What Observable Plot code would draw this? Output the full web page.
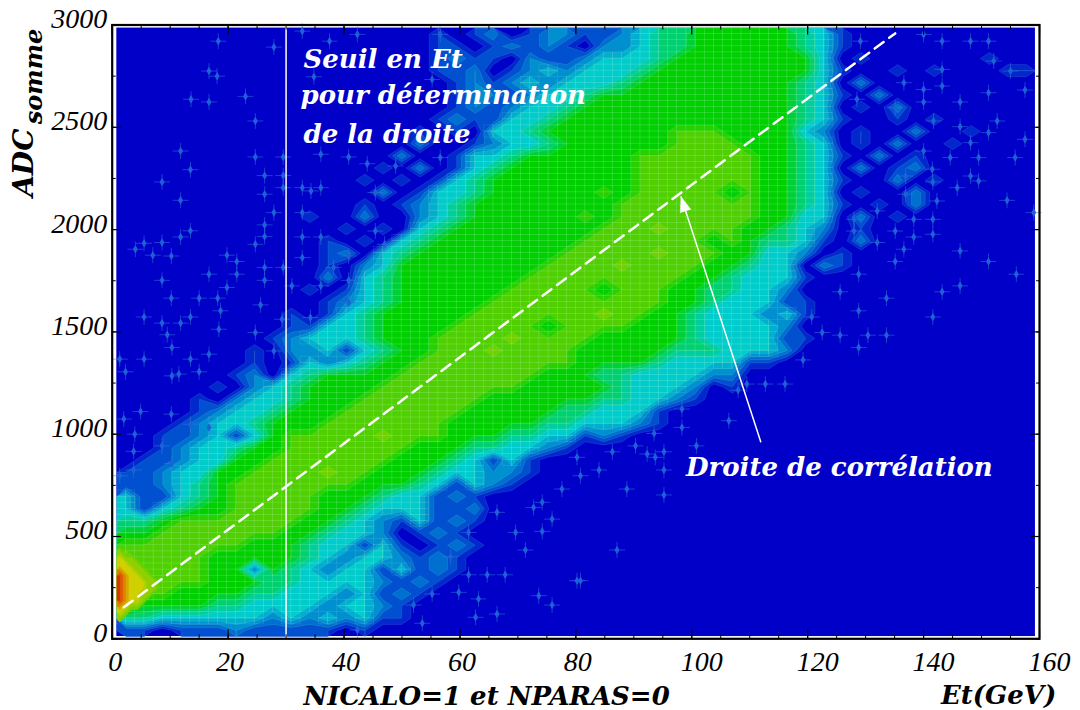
<!DOCTYPE html>
<html><head><meta charset="utf-8">
<script src="https://cdn.jsdelivr.net/npm/d3@7"></script>
<script src="https://cdn.jsdelivr.net/npm/@observablehq/plot@0.6"></script>
<style>html,body{margin:0;padding:0;background:#fff;overflow:hidden}svg{display:block}</style>
</head><body><div id="chart"></div>
<script>
// density levels: top row = high ADC, left column = low Et
const levelRows = [
"0000000000 0000000101 2012211234 4555555431 0",
"0000000000 0000000110 1212102234 4555555431 0",
"0000000000 0000000121 1021123334 5555555530 1000000100",
"0000000000 0000000112 0123233345 5555555531 0010100011",
"0000000000 0000000012 1232333455 5555555430 2000000000",
"0000000000 0000000012 2123345555 5555555431 0200000000",
"0000000000 0000000012 1233455555 5555555430 1020000000",
"0000000000 0000000121 1334555555 5555555431 0010100000",
"0000000000 0000001010 3345555555 6665555320 1002001000",
"0000000000 0000002001 2334555555 6666555430 1020010000",
"0000000000 0000020013 3455555566 6666655431 0201000000",
"0000000000 0000102013 4555555566 6666655430 2012000000",
"0000000000 0001010134 5555555566 6666655431 0020100000",
"0000000000 0000201334 5555556566 6665655430 1002000000",
"0000000000 0001012345 5555555666 6666655431 0102000000",
"0000000000 1002002345 5555565666 6666655330 2010000000",
"0000000000 0010103455 5555556667 6666554320 1000000000",
"0000000000 0101034555 5555566666 6656544310 2000000000",
"0000000000 0120345555 5555666667 6665533201 0000000000",
"0000000000 0102355555 5556666766 6655433021 0000000000",
"0000000000 0203455555 5566666666 6554333100",
"0000000000 1013455555 5666665666 5544332000",
"0000000000 0123455555 6666666666 5543331100",
"0000000001 0134555556 6666667665 5433323100",
"0000000001 1334555566 6665666655 5433332000",
"0000000012 3334555666 6766665555 5433331100",
"0000000102 2313455666 7666655555 4443332000",
"0000000101 3234556666 6666655554 3333110000",
"0000001203 4555566666 6665554433 3322000000",
"0000010234 5555666666 6655555433 3201000000",
"0000102334 5556666666 5555554433 2100000000",
"0000123345 5566666665 5555443331 0000000000",
"0001233455 5666666655 5554433321",
"0011231356 6666766655 5443312100",
"0012334556 6666665554 4332100000",
"0112335566 6666655543 1310000000",
"1123355666 6766555433 2210000000",
"1123456666 6665554313 2100000000",
"3113456666 6555433121",
"3134556666 6554333112",
"4456666666 5543213121",
"5566666665 5433201210",
"6666666555 4331310121",
"7666655555 4323321210",
"7666655254 3233131210",
"7666655544 3333212100",
"7665555443 3323121000",
"6555544333 3233210000",
"4433333323 2323110000",
"1101112111 1101000000"
];
// finer reading of the hot spot near the origin
const coreRows = [
"76666666","87766666","88776666","98877666","a9887766","a9888776",
"a9888776","a9887766","a9887666","98776666","87666655","76555555"
];
const speckEt = [18.3,27.9,16.7,18.1,13.6,16.7,23,24.7,11.8,24.7,29.5,13.5,8.6,26.3,29.5,11.8,26.3,29.5,27.9,13.5,11.8,8.6,5.5,4,7,10.2,24.7,26.3,26.3,19.8,21.5,26.3,29.5,16.7,21.5,8.6,26.3,31,10.2,15,18.2,19.8,18.7,25.6,5.5,8.6,11.8,13.5,29.3,
32.8,37.5,42.3,34.8,32.8,34.3,36,32.8,32.8,36,32.8,40.8,38.2,36,40.8,40.8,44,40.8,36,48.9,34.2,45.4,45.4,47,56.6,55.2,56.6,
129.1,140,143.2,148.1,151.2,152.1,143.2,136.6,140,143.2,157.5,155,151.2,140,146.3,128.5,135.1,152.7,146.3,141.7,151.2,157.5,148.1,140,144.6,149.5,155.8,141.5,148.1,149.5,141.6,145.8,136.9,136.9,142.3,154.4,159,138.3,141.6,135.1,138.3,141.6,136.6,132,146.3,151.2,135.1,156,128.8,146.3,143.2,133.6,128.8,141.6,120.7,125.6,132,128,128,
18.4,24.7,9.5,10.3,1.3,5.5,13.5,16.7,2.3,15,10.3,11.5,27.9,13.5,2,4.9,10.2,3.9,16.7,8.6,3.7,10.3,3.7,1.3,77.6,74.2,72.7,75.9,69.6,74.2,71.3,66.4,61.5,58.4,61.5,64.7,67.8,80.2,59.8,55.2,63.2,73.6,75.9,52,66.4,62.7,53.5,42.3,
122.5,125.6,130.4,133.6,128.8,119.2,116.1,112.7,109.5,108,106.4,98.3,98.3,93.5,100.8,95.2,90.3,86.3,92.3,93.7,80.2,84,95.2,80.8,88.8,95.2,87.1,80.8];
const speckAdc = [2921,2892,2775,2750,2637,2624,2651,2531,2384,2355,2355,2293,2233,2264,2264,2143,2173,2205,2083,1994,1964,1937,1933,1904,1875,1871,1928,2023,1966,1875,1844,1815,1815,1782,1782,1752,1752,1725,1665,1665,1665,1717,1603,1632,1573,1543,1543,1573,1562,
2970,2921,2954,2747,2205,2189,2205,2083,1964,1964,1863,1871,1815,1725,1752,1643,2322,2355,2368,2311,1570,2181,1993,1928,2954,2734,2352,
2921,2954,2921,2921,2921,2824,2783,2718,2685,2702,2682,2775,2669,2624,2624,2637,2596,2531,2503,2531,2474,2441,2425,2384,2352,2352,2352,2295,2262,2238,2233,2205,2262,2173,2140,2143,2083,2050,2050,1993,1964,1977,1904,1937,1896,1844,1844,1782,1782,1725,1696,1665,1603,1573,1573,1696,2091,2050,1993,
1513,1497,1486,1424,1367,1367,1367,1391,1305,1305,1285,1294,1407,1049,1074,1111,1098,1000,1033,943,916,857,825,797,732,667,642,585,520,525,434,618,520,401,313,313,313,284,227,219,195,211,165,165,121,105,76,43,
1497,1484,1484,1484,1424,1363,1245,1245,1245,1215,1066,1123,1033,1004,943,914,943,914,903,887,887,825,825,797,732,703,434,284];
const correlationEt = [2, 135.1];
const correlationAdc = [154, 2959];
const arrowEt = [111.9, 98.15];
const arrowAdc = [963, 2160];
const thresholdEt = [30];
const xMajor = [0,20,40,60,80,100,120,140,160];
const yMajor = [0,500,1000,1500,2000,2500,3000];
const xMinor = d3.range(0,161,5);
const yMinor = d3.range(0,3001,250);

const grid = levelRows.flatMap(s => Array.from(s.replace(/ /g,"").padEnd(50,"0").slice(0,50), c => parseInt(c,16)));
const core = coreRows.flatMap(s => Array.from(s, c => parseInt(c,16)));
const X0=0.8,X1=159.3,Y0=2985,Y1=11,N=50;
const mesh=[];
const sx=(X1-X0)/(2*N), sy=(Y0-Y1)/(2*N);
grid.forEach((v,k)=>{ if(v<3) return;
  const c=k%N,r=Math.floor(k/N);
  for(let a=0;a<2;a++)for(let b=0;b<2;b++)
    mesh.push({x1:X0+sx*(2*c+a),x2:X0+sx*(2*c+a+1),y1:Y0-sy*(2*r+b),y2:Y0-sy*(2*r+b+1)});
});
const specks = speckEt.map((e,i)=>({e,a:speckAdc[i]}));
const th = d3.range(0.5,10.01,0.5);
const serif = "'Liberation Serif',serif";
const bold = "'DejaVu Serif',serif";
const boldText = (t,opts)=>Plot.text([t],{text:d=>d,fontFamily:bold,fontWeight:"bold",fontStyle:"italic",fontSize:26,fill:"#fff",textAnchor:"start",...opts});
const tickFont = {fontFamily:serif,fontStyle:"italic",fontSize:28,fill:"#000"};

const chart = Plot.plot({
  width:1080,height:710,
  marginLeft:111.7,marginRight:41,marginTop:24.5,marginBottom:71.7,
  x:{type:"linear",domain:[0,160],axis:null},
  y:{type:"linear",domain:[0,3000],axis:null},
  color:{type:"linear",domain:[0,1,2,3,4,5,6,7,8,9,10],
    range:["#0000c8","#0050d0","#0090d0","#00cccc","#00d070","#00d000","#50d000","#90d000","#d0d000","#e08000","#d83000"]},
  marks:[
    Plot.rect([0],{x1:X0,x2:X1,y1:Y1,y2:Y0,fill:"#0000c8"}),
    Plot.contour(grid,{width:N,height:N,x1:X0,x2:X1,y1:Y0,y2:Y1,value:d=>d,fill:"value",thresholds:th,stroke:"#c8ffe0",strokeOpacity:0.18,strokeWidth:0.6}),
    Plot.rect(mesh,{x1:"x1",x2:"x2",y1:"y1",y2:"y2",fill:"none",stroke:"#c8ffe0",strokeOpacity:0.17,strokeWidth:0.6}),
    Plot.contour(core,{width:8,height:12,x1:0.8,x2:9,y1:446,y2:80,value:d=>d,fill:"value",thresholds:d3.range(6.5,10.01,0.5)}),
    Plot.dot(specks,{x:"e",y:"a",symbol:"plus",r:5.2,stroke:"#3f78e0",strokeWidth:0.5}),
    Plot.dot(specks,{x:"e",y:"a",symbol:"diamond",r:2.6,fill:"#1c62d4"}),
    Plot.ruleX(thresholdEt,{stroke:"#fff",strokeWidth:1.5}),
    Plot.line(correlationEt.map((e,i)=>({e,a:correlationAdc[i]})),{x:"e",y:"a",stroke:"#fff",strokeWidth:2.5,strokeDasharray:"11,7"}),
    Plot.line(arrowEt.map((e,i)=>({e,a:arrowAdc[i]})),{x:"e",y:"a",stroke:"#fff",strokeWidth:1.5}),
    Plot.vector([0],{x:arrowEt[1],y:arrowAdc[1],length:15,rotate:-17.7,shape:"spike",r:5.5,anchor:"end",fill:"#fff",stroke:"#fff",strokeWidth:0.5}),
    boldText("Seuil en Et",{x:33,y:2830}),
    boldText("pour détermination",{x:32.5,y:2655}),
    boldText("de la droite",{x:33,y:2465}),
    boldText("Droite de corrélation",{x:99,y:836}),
    boldText("NICALO=1 et NPARAS=0",{x:33,y:0,dy:58,fill:"#000"}),
    boldText("Et(GeV)",{x:143,y:0,dy:57,fill:"#000"}),
    boldText("ADC",{x:0,y:2160,dx:-88,rotate:-90,fontSize:28,fill:"#000"}),
    boldText("somme",{x:0,y:2515,dx:-78,rotate:-90,fontSize:24,fill:"#000"}),
    Plot.text(xMajor.filter(d=>d>0&&d<100),{x:d=>d,y:0,text:d=>String(d),dy:23,dx:-12,textAnchor:"start",...tickFont}),
    Plot.text(xMajor.filter(d=>d>=100),{x:d=>d,y:0,text:d=>String(d),dy:23,dx:-11,textAnchor:"start",...tickFont}),
    Plot.text([0],{x:d=>d,y:0,text:d=>String(d),dy:23,dx:3,...tickFont}),
    Plot.text(yMajor,{x:0,y:d=>d,text:d=>String(d),dx:-5,dy:-6,textAnchor:"end",...tickFont}),
    Plot.axisX(xMajor,{anchor:"bottom",tickSize:-9,tickFormat:()=>"",strokeWidth:1.2}),
    Plot.axisX(xMinor,{anchor:"bottom",tickSize:-4,tickFormat:()=>"",strokeWidth:1}),
    Plot.axisX(xMajor,{anchor:"top",tickSize:-9,tickFormat:()=>"",strokeWidth:1.2}),
    Plot.axisX(xMinor,{anchor:"top",tickSize:-4,tickFormat:()=>"",strokeWidth:1}),
    Plot.axisY(yMajor,{anchor:"left",tickSize:-9,tickFormat:()=>"",strokeWidth:1.2}),
    Plot.axisY(yMinor,{anchor:"left",tickSize:-4,tickFormat:()=>"",strokeWidth:1}),
    Plot.axisY(yMajor,{anchor:"right",tickSize:-9,tickFormat:()=>"",strokeWidth:1.2}),
    Plot.axisY(yMinor,{anchor:"right",tickSize:-4,tickFormat:()=>"",strokeWidth:1}),
    Plot.frame({stroke:"#000",strokeWidth:2.2})
  ]
});
chart.style.overflow="visible";
document.getElementById("chart").append(chart);
</script></body></html>
